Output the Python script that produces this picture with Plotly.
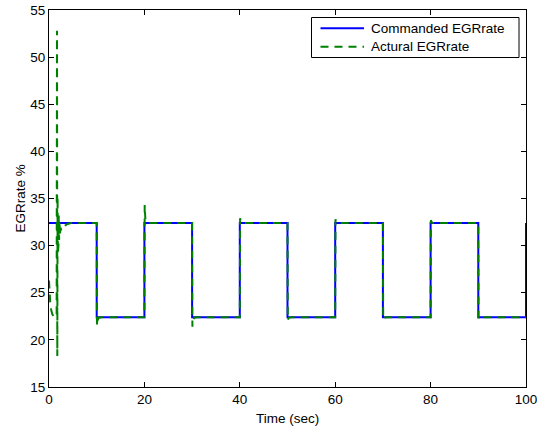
import plotly.graph_objects as go

# Commanded EGR rate (square wave)
t_cmd = [0, 10, 10, 20, 20, 30, 30, 40, 40, 50, 50, 60, 60, 70, 70, 80, 80, 90, 90, 100, 100]
egr_cmd = [32.4, 32.4, 22.4, 22.4, 32.4, 32.4, 22.4, 22.4, 32.4, 32.4, 22.4,
           22.4, 32.4, 32.4, 22.4, 22.4, 32.4, 32.4, 22.4, 22.4, 32.4]

t_act = [0, 0.1, 0.25, 0.45, 0.7, 1.0, 1.4, 1.6, 1.68, 1.74, 1.8, 1.86, 1.92, 1.98,
         2.05, 2.12, 2.2, 2.3, 2.42, 2.6, 2.9, 3.3, 3.9, 4.6, 5.5,
         10, 10.06, 10.2, 10.45, 11,
         20, 20.06, 20.2, 20.45, 21,
         30, 30.06, 30.2, 30.45, 31,
         40, 40.06, 40.2, 40.45, 41,
         50, 50.06, 50.2, 50.45, 51,
         60, 60.06, 60.2, 60.45, 61,
         70, 70.06, 70.2, 70.45, 71,
         80, 80.06, 80.2, 80.45, 81,
         90, 90.06, 90.2, 90.45, 91,
         100]
egr_act = [26.3, 25.2, 24.0, 23.2, 22.7, 22.5, 22.4, 22.6, 52.8, 18.3, 35.2, 29.2, 34.0, 30.0,
           33.2, 30.6, 32.6, 31.0, 31.9, 31.6, 31.9, 32.1, 32.3, 32.4, 32.4,
           32.4, 21.5, 22.1, 22.35, 22.4,
           22.4, 34.3, 32.8, 32.45, 32.4,
           32.4, 21.4, 22.1, 22.35, 22.4,
           22.4, 32.9, 32.6, 32.45, 32.4,
           32.4, 22.1, 22.3, 22.38, 22.4,
           22.4, 32.8, 32.55, 32.45, 32.4,
           32.4, 22.2, 22.3, 22.38, 22.4,
           22.4, 32.7, 32.5, 32.42, 32.4,
           32.4, 22.2, 22.3, 22.38, 22.4,
           22.4]

x_ticks = [0, 20, 40, 60, 80, 100]
y_ticks = [15, 20, 25, 30, 35, 40, 45, 50, 55]
series_names = ["Commanded EGRrate", "Actural EGRrate"]
series_colors = ["rgb(0,0,255)", "rgb(0,128,0)"]
series_dash = ["solid", "8px,6px"]

FONT = "Liberation Sans, Arial, sans-serif"

# plot-area geometry in pixels
W, H = 537, 427
L, R, T, B = 49, 11, 10, 40
PW, PH = W - L - R, H - T - B


def px(x):
    return (x - L) / PW


def py(y):
    return 1 - (y - T) / PH


fig = go.Figure()
fig.add_trace(go.Scatter(x=t_cmd, y=egr_cmd, mode="lines", name=series_names[0],
                         line=dict(color=series_colors[0], width=2, dash=series_dash[0])))
fig.add_trace(go.Scatter(x=t_act, y=egr_act, mode="lines", name=series_names[1],
                         line=dict(color=series_colors[1], width=2, dash=series_dash[1])))

axis_common = dict(showline=True, linecolor="black", linewidth=1, mirror="allticks",
                   ticks="inside", ticklen=5, tickcolor="black", showgrid=False,
                   zeroline=False, ticklabeloverflow="allow", automargin=False,
                   tickfont=dict(family=FONT, size=13.5, color="black"))

fig.update_xaxes(range=[0, 100], tickvals=x_ticks, ticktext=[str(v) for v in x_ticks],
                 **axis_common)
fig.update_yaxes(range=[15, 55], tickvals=y_ticks, ticktext=[str(v) for v in y_ticks],
                 **axis_common)

fig.add_annotation(text="Time (sec)", xref="paper", yref="paper", x=0.5, y=0,
                   yshift=-31, showarrow=False, yanchor="middle",
                   font=dict(family=FONT, size=13.5, color="black"))
fig.add_annotation(text="EGRrate %", xref="paper", yref="paper", x=0, y=0.5,
                   xshift=-29, textangle=-90, showarrow=False, xanchor="center",
                   font=dict(family=FONT, size=13.5, color="black"))

# manual MATLAB-style legend
fig.add_shape(type="rect", xref="paper", yref="paper",
              x0=px(311.5), x1=px(519), y0=py(57.5), y1=py(17.5),
              line=dict(color="black", width=1), fillcolor="white", layer="above")
rows_y = [28.3, 46.7]
for name, col, dsh, ry in zip(series_names, series_colors, series_dash, rows_y):
    fig.add_shape(type="line", xref="paper", yref="paper",
                  x0=px(320.5), x1=px(364), y0=py(ry), y1=py(ry),
                  line=dict(color=col, width=2, dash=dsh), layer="above")
    fig.add_annotation(text=name, xref="paper", yref="paper", x=px(369), y=py(ry),
                       xanchor="left", yanchor="middle", showarrow=False,
                       font=dict(family=FONT, size=13.5, color="black"))

fig.update_layout(
    width=W, height=H,
    margin=dict(l=L, r=R, t=T, b=B, autoexpand=False),
    paper_bgcolor="white", plot_bgcolor="white",
    showlegend=False,
)

fig.write_html("out.html")
